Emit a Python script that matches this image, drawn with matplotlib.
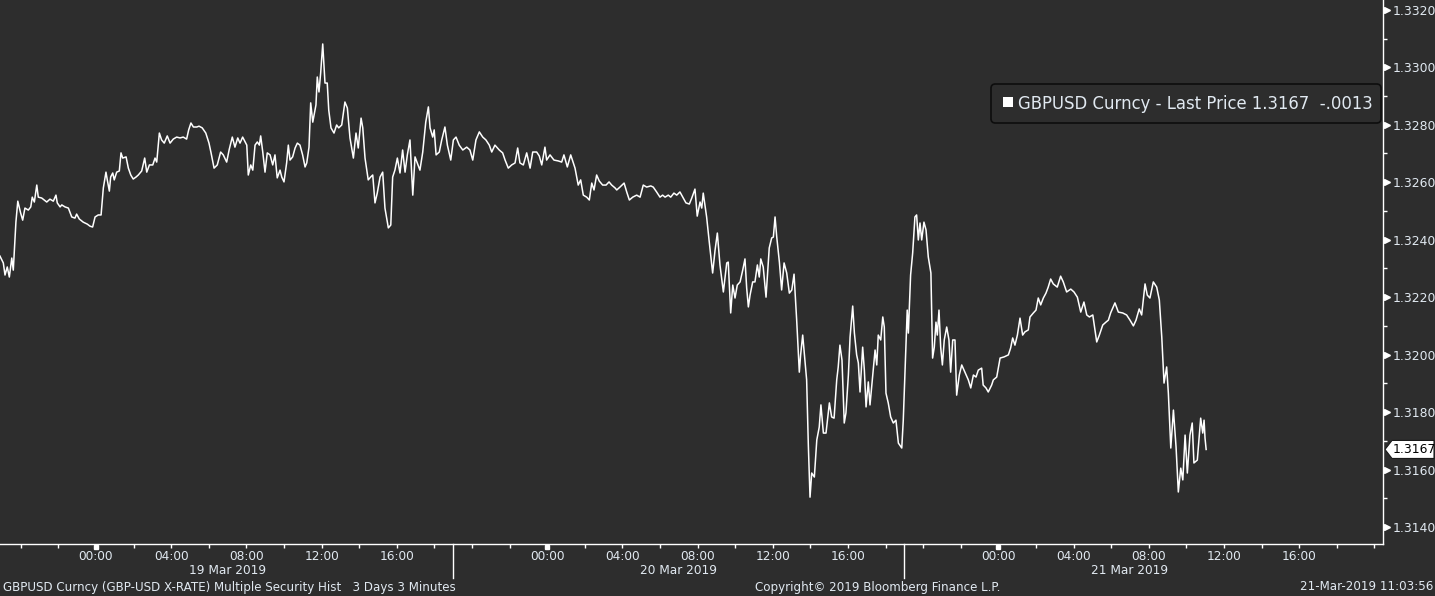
import numpy as np
import matplotlib
matplotlib.use('Agg')
import matplotlib.pyplot as plt
import matplotlib.transforms as mtransforms
from matplotlib.patches import Polygon, Rectangle, FancyBboxPatch

# GBPUSD last price, 3 days of 3-minute bars
# time = hours since 19 Mar 2019 00:00
hours = [
    -5.11, -4.93, -4.84, -4.72, -4.61, -4.48, -4.40, -4.26, -4.16, -4.01, -3.90, -3.78, -3.60, -3.47,
    -3.39, -3.28, -3.15, -3.07, -2.89, -2.62, -2.45, -2.27, -2.13, -2.06, -1.91, -1.82, -1.65, -1.47,
    -1.29, -1.12, -1.03, -0.89, -0.68, -0.46, -0.32, -0.18, -0.05, 0.12, 0.27, 0.39, 0.53, 0.60,
    0.71, 0.78, 0.89, 0.97, 1.10, 1.24, 1.33, 1.42, 1.60, 1.72, 1.85, 1.98, 2.13, 2.25,
    2.43, 2.59, 2.70, 2.84, 3.02, 3.14, 3.23, 3.37, 3.49, 3.63, 3.79, 3.94, 4.11, 4.29,
    4.47, 4.64, 4.82, 4.93, 5.05, 5.18, 5.36, 5.48, 5.65, 5.84, 6.01, 6.12, 6.28, 6.45,
    6.63, 6.77, 6.95, 7.09, 7.25, 7.39, 7.54, 7.66, 7.80, 7.93, 8.02,
    8.10, 8.23, 8.34, 8.46, 8.58, 8.69, 8.76, 8.87, 8.99, 9.11, 9.26, 9.40, 9.52, 9.64,
    9.79, 9.88, 10.00, 10.14, 10.23, 10.32, 10.46, 10.59, 10.71, 10.85, 10.99, 11.12, 11.21, 11.33,
    11.42, 11.53, 11.70, 11.77, 11.86, 11.95, 12.06, 12.18, 12.30, 12.38, 12.50, 12.66, 12.80, 12.91,
    13.07, 13.24, 13.37, 13.51, 13.69, 13.83, 13.95, 14.10, 14.19, 14.31, 14.48, 14.61, 14.72, 14.84,
    14.96, 15.11, 15.25, 15.37, 15.55, 15.68, 15.78, 15.90, 16.03, 16.17, 16.31, 16.44, 16.56, 16.70,
    16.85, 16.97, 17.09, 17.23, 17.38, 17.54, 17.68, 17.77, 17.91, 17.99, 18.09, 18.26, 18.39, 18.56,
    18.69, 18.87, 19.01, 19.15, 19.32, 19.51, 19.72, 19.89, 20.04, 20.21, 20.39, 20.57, 20.74, 20.92,
    21.05, 21.22, 21.45, 21.63, 21.76, 21.93, 22.11, 22.29, 22.43, 22.55, 22.73, 22.91, 23.09, 23.23,
    23.44, 23.58, 23.71, 23.88, 23.97, 24.15, 24.36, 24.59, 24.77, 24.89, 25.07, 25.25, 25.48, 25.65,
    25.78, 25.92, 26.10, 26.24, 26.37, 26.49, 26.63, 26.77, 26.95, 27.13, 27.29, 27.43, 27.61, 27.70,
    27.87, 28.09, 28.23, 28.37, 28.55, 28.76, 28.94, 29.11, 29.29, 29.51, 29.64, 29.82, 30.00, 30.14,
    30.27, 30.44, 30.57, 30.74, 30.89, 31.06, 31.21, 31.38, 31.56, 31.69, 31.86, 31.98, 32.13, 32.22,
    32.30, 32.48, 32.62, 32.80, 32.93, 33.05, 33.19, 33.37, 33.55, 33.63, 33.76, 33.87, 33.99, 34.11,
    34.26, 34.40, 34.52, 34.61, 34.70, 34.79, 34.93, 35.05, 35.18, 35.28, 35.36, 35.49, 35.64, 35.81,
    35.94, 36.03, 36.12, 36.21, 36.35, 36.47, 36.60, 36.74, 36.88, 37.01, 37.13, 37.27, 37.41, 37.48,
    37.59, 37.71, 37.80, 37.89, 37.98, 38.07, 38.21, 38.34, 38.47, 38.56, 38.69, 38.83, 39.01, 39.13,
    39.26, 39.40, 39.48, 39.57, 39.68, 39.80, 39.89, 40.02, 40.11, 40.25, 40.34, 40.46, 40.55, 40.64,
    40.78, 40.87, 40.96, 41.08, 41.17, 41.31, 41.44, 41.53, 41.61, 41.74, 41.85, 41.93, 42.02, 42.14,
    42.27, 42.41, 42.55, 42.68, 42.86, 42.94, 43.05, 43.15, 43.21, 43.33, 43.44, 43.56, 43.65, 43.74,
    43.83, 43.92, 44.04, 44.15, 44.27, 44.41, 44.50, 44.59, 44.68, 44.75, 44.84, 44.93, 45.02, 45.12,
    45.25, 45.37, 45.46, 45.57, 45.69, 45.78, 45.92, 46.05, 46.22,
    46.40, 46.53, 46.67, 46.81, 46.93, 47.11, 47.19, 47.34, 47.46, 47.64, 47.73, 47.91, 48.09, 48.30,
    48.53, 48.65, 48.76, 48.88, 49.01, 49.15, 49.29, 49.41, 49.59, 49.68, 49.86, 50.00, 50.12, 50.25,
    50.39, 50.53, 50.65, 50.78, 50.92, 51.13, 51.31, 51.45, 51.63, 51.85, 52.02, 52.20, 52.38, 52.55,
    52.70, 52.84, 53.02, 53.23, 53.37, 53.55, 53.72, 53.85, 53.97, 54.20, 54.38, 54.61, 54.82, 55.00,
    55.18, 55.32, 55.49, 55.62, 55.80, 55.92, 56.06, 56.24, 56.42, 56.56, 56.69, 56.81, 56.95, 57.04,
    57.17, 57.31, 57.45, 57.57, 57.70, 57.81, 57.93, 58.05, 58.19, 58.31, 58.40, 58.58, 58.76, 58.87,
    58.94, 58.99, 59.05,
]

prices = [
    1.32343, 1.32319, 1.32277, 1.32305, 1.32270, 1.32336, 1.32294, 1.32461, 1.32534, 1.32493, 1.32468, 1.32510, 1.32503, 1.32514,
    1.32548, 1.32531, 1.32590, 1.32548, 1.32545, 1.32531, 1.32541, 1.32534, 1.32555, 1.32528, 1.32514, 1.32521, 1.32514, 1.32510,
    1.32479, 1.32475, 1.32489, 1.32472, 1.32461, 1.32454, 1.32447, 1.32444, 1.32479, 1.32486, 1.32486, 1.32580, 1.32635, 1.32608,
    1.32569, 1.32618, 1.32632, 1.32608, 1.32635, 1.32639, 1.32702, 1.32684, 1.32688, 1.32649, 1.32625, 1.32611, 1.32618, 1.32625,
    1.32639, 1.32684, 1.32635, 1.32660, 1.32660, 1.32684, 1.32670, 1.32771, 1.32747, 1.32736, 1.32761, 1.32736, 1.32750, 1.32757,
    1.32754, 1.32757, 1.32750, 1.32782, 1.32806, 1.32792, 1.32792, 1.32795, 1.32789, 1.32771, 1.32736, 1.32702, 1.32649, 1.32660,
    1.32705, 1.32695, 1.32670, 1.32715, 1.32757, 1.32722, 1.32754, 1.32736, 1.32757, 1.32740, 1.32729,
    1.32625, 1.32660, 1.32642, 1.32729, 1.32740, 1.32729, 1.32761, 1.32705, 1.32635, 1.32702, 1.32695, 1.32660, 1.32695, 1.32615,
    1.32642, 1.32618, 1.32601, 1.32667, 1.32729, 1.32677, 1.32688, 1.32719, 1.32736, 1.32729, 1.32695, 1.32653, 1.32667, 1.32722,
    1.32876, 1.32809, 1.32869, 1.32966, 1.32914, 1.32980, 1.33081, 1.32945, 1.32945, 1.32851, 1.32789, 1.32771, 1.32799, 1.32789,
    1.32799, 1.32879, 1.32858, 1.32754, 1.32684, 1.32771, 1.32719, 1.32823, 1.32789, 1.32684, 1.32608, 1.32618, 1.32625, 1.32528,
    1.32562, 1.32618, 1.32635, 1.32510, 1.32441, 1.32451, 1.32618, 1.32642, 1.32684, 1.32632, 1.32712, 1.32635, 1.32695, 1.32747,
    1.32555, 1.32688, 1.32667, 1.32642, 1.32705, 1.32809, 1.32862, 1.32789, 1.32757, 1.32782, 1.32695, 1.32705, 1.32747, 1.32792,
    1.32729, 1.32677, 1.32747, 1.32757, 1.32729, 1.32712, 1.32722, 1.32712, 1.32677, 1.32747, 1.32775, 1.32757, 1.32747, 1.32729,
    1.32705, 1.32729, 1.32712, 1.32702, 1.32677, 1.32649, 1.32660, 1.32667, 1.32719, 1.32667, 1.32660, 1.32702, 1.32649, 1.32705,
    1.32705, 1.32691, 1.32660, 1.32722, 1.32677, 1.32695, 1.32677, 1.32674, 1.32670, 1.32695, 1.32653, 1.32695, 1.32649, 1.32590,
    1.32608, 1.32555, 1.32548, 1.32538, 1.32597, 1.32573, 1.32625, 1.32604, 1.32590, 1.32590, 1.32601, 1.32590, 1.32580, 1.32573,
    1.32583, 1.32597, 1.32566, 1.32538, 1.32548, 1.32555, 1.32548, 1.32590, 1.32583, 1.32587, 1.32583, 1.32566, 1.32548, 1.32555,
    1.32548, 1.32555, 1.32548, 1.32562, 1.32555, 1.32566, 1.32548, 1.32528, 1.32524, 1.32545, 1.32576, 1.32482, 1.32531, 1.32510,
    1.32562, 1.32479, 1.32392, 1.32284, 1.32364, 1.32423, 1.32312, 1.32218, 1.32319, 1.32322, 1.32145, 1.32242, 1.32197, 1.32242,
    1.32253, 1.32294, 1.32333, 1.32232, 1.32166, 1.32207, 1.32253, 1.32253, 1.32312, 1.32270, 1.32333, 1.32305, 1.32200, 1.32371,
    1.32406, 1.32409, 1.32479, 1.32409, 1.32322, 1.32225, 1.32319, 1.32284, 1.32214, 1.32225, 1.32280, 1.32120, 1.31939, 1.31999,
    1.32068, 1.31981, 1.31912, 1.31685, 1.31504, 1.31588, 1.31574, 1.31703, 1.31748, 1.31825, 1.31727, 1.31727, 1.31832, 1.31783,
    1.31779, 1.31912, 1.31957, 1.32033, 1.31981, 1.31762, 1.31797, 1.31929, 1.32061, 1.32169, 1.32075, 1.31999, 1.31971, 1.31870,
    1.32026, 1.31946, 1.31818, 1.31905, 1.31825, 1.31922, 1.32016, 1.31964, 1.32068, 1.32051, 1.32131, 1.32096, 1.31866, 1.31832,
    1.31783, 1.31762, 1.31772, 1.31692, 1.31675, 1.31772, 1.31971, 1.32155, 1.32075, 1.32277, 1.32354, 1.32479, 1.32486, 1.32399,
    1.32458, 1.32399, 1.32461, 1.32434, 1.32340, 1.32284, 1.31988, 1.32026, 1.32113, 1.32068, 1.32155, 1.32026, 1.31964, 1.32051,
    1.32096, 1.32051, 1.31939, 1.32051, 1.32051, 1.31859, 1.31929, 1.31964, 1.31939,
    1.31912, 1.31884, 1.31929, 1.31922, 1.31946, 1.31953, 1.31894, 1.31884, 1.31870, 1.31894, 1.31912, 1.31922, 1.31988, 1.31992,
    1.31999, 1.32023, 1.32058, 1.32033, 1.32068, 1.32127, 1.32068, 1.32079, 1.32086, 1.32131, 1.32145, 1.32155, 1.32197, 1.32173,
    1.32197, 1.32214, 1.32235, 1.32263, 1.32246, 1.32235, 1.32273, 1.32253, 1.32218, 1.32228, 1.32218, 1.32200, 1.32148, 1.32183,
    1.32138, 1.32131, 1.32138, 1.32044, 1.32068, 1.32103, 1.32113, 1.32120, 1.32145, 1.32180, 1.32148, 1.32145, 1.32138, 1.32120,
    1.32100, 1.32120, 1.32159, 1.32138, 1.32246, 1.32207, 1.32197, 1.32253, 1.32235, 1.32190, 1.32061, 1.31901, 1.31957, 1.31866,
    1.31675, 1.31807, 1.31678, 1.31522, 1.31605, 1.31564, 1.31720, 1.31588, 1.31720, 1.31762, 1.31623, 1.31633, 1.31779, 1.31727,
    1.31772, 1.31710, 1.31670,
]

last_price = 1.3167
net_change = '-.0013'
session_breaks = [19, 43]  # 19:00 session split
day_centers = [7, 31, 55]
day_names = ['19 Mar 2019', '20 Mar 2019', '21 Mar 2019']
time_ticks = [d * 24 + h for d in range(3) for h in (0, 4, 8, 12, 16)]
midnights = [0, 24, 48]
y_major = np.round(np.arange(1.3140, 1.33201, 0.002), 4)
y_minor = np.round(np.arange(1.3150, 1.33201, 0.002), 4)

BG = '#2d2d2d'
FG = '#e1e9f1'
W, H = 1435, 596

plt.rcParams['font.family'] = ['DejaVu Sans']

fig = plt.figure(figsize=(W / 100, H / 100), dpi=100, facecolor=BG)
ax = fig.add_axes([0, 52 / H, 1383 / W, 544 / H], facecolor=BG)

ax.plot(hours, prices, color='white', lw=1.1)

ax.set_xlim(-96 / 18.8, (1383 - 96) / 18.8)
ax.set_ylim(1.31341, 1.33234)

for s in ['top', 'left']:
    ax.spines[s].set_visible(False)
for s in ['right', 'bottom']:
    ax.spines[s].set_color('white')
    ax.spines[s].set_linewidth(1)

# y axis on the right
ax.yaxis.tick_right()
ax.set_yticks(y_major)
ax.set_yticks(y_minor, minor=True)
ax.set_yticklabels(['%.4f' % v for v in y_major])
ax.tick_params(axis='y', which='major', length=0, pad=7, labelcolor=FG, labelsize=8.9)
ax.tick_params(axis='y', which='minor', length=3, width=1, color='white', direction='out')
ytrans = mtransforms.blended_transform_factory(ax.transAxes, ax.transData)
ax.plot([1.0032] * len(y_major), y_major, ls='none', marker='>', ms=4.5, color='white',
        transform=ytrans, clip_on=False)

# x axis
ax.set_xticks(time_ticks)
ax.set_xticklabels(['%02d:00' % (t % 24) for t in time_ticks])
ax.set_xticks(np.arange(-4, 69, 2), minor=True)
ax.tick_params(axis='x', which='both', length=3, width=1, color='white', direction='out')
ax.tick_params(axis='x', which='major', pad=1.5, labelcolor=FG, labelsize=8.7)
xtrans = mtransforms.blended_transform_factory(ax.transData, ax.transAxes)
ax.plot(midnights, [-2.5 / 544] * 3, ls='none', marker='s', ms=2.4, color='white',
        transform=xtrans, clip_on=False)
for b in session_breaks:
    ax.plot([b, b], [0, -34 / 544], color='white', lw=1, transform=xtrans, clip_on=False)
for c, name in zip(day_centers, day_names):
    ax.text(c, -26 / 544, name, transform=xtrans, ha='center', va='center', color=FG, fontsize=8.7)

# last price tag
ptrans = mtransforms.blended_transform_factory(fig.transFigure, ax.transData)
dy = 9 * 0.018 / 517
tag = Polygon([(1385 / W, last_price), (1392 / W, last_price + dy), (1434 / W, last_price + dy),
               (1434 / W, last_price - dy), (1392 / W, last_price - dy)],
              closed=True, fc='white', ec='#1a1a1a', lw=0.8, transform=ptrans, clip_on=False)
ax.add_artist(tag)
ax.text(1393 / W, last_price, '%.4f' % last_price, transform=ptrans, va='center', ha='left',
        color='black', fontsize=8.9, clip_on=False)

# legend box
box = FancyBboxPatch((991 / W, 1 - 123 / H), 390 / W, 39 / H,
                     boxstyle='round,pad=0,rounding_size=0.003', mutation_aspect=W / H,
                     transform=fig.transFigure, fc=BG, ec='#0d0d0d', lw=1.2, zorder=5)
fig.add_artist(box)
fig.add_artist(Rectangle((1003 / W, 1 - 107 / H), 10 / W, 10 / H, transform=fig.transFigure,
                         fc='white', ec='none', zorder=6))
fig.text(1018 / W, 1 - 104 / H, 'GBPUSD Curncy - Last Price %.4f  %s' % (last_price, net_change),
         color=FG, fontsize=11.9, va='center', ha='left', zorder=6)

# footer
fig.text(3 / W, 9 / H, 'GBPUSD Curncy (GBP-USD X-RATE) Multiple Security Hist   3 Days 3 Minutes',
         color=FG, fontsize=8.6, va='center', ha='left')
fig.text(878 / W, 9 / H, 'Copyright\u00a9 2019 Bloomberg Finance L.P.', color=FG, fontsize=8.6,
         va='center', ha='center')
fig.text(1433 / W, 9 / H, '21-Mar-2019 11:03:56', color=FG, fontsize=8.6, va='center', ha='right')

fig.savefig('out.png', dpi=100, facecolor=BG)
